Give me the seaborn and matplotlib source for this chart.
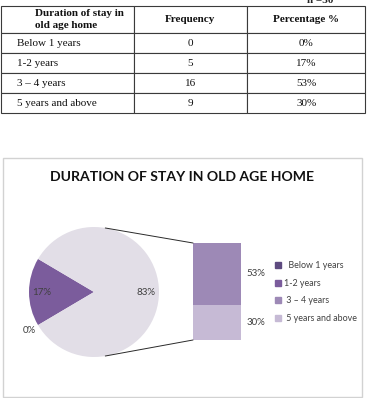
import numpy as np
import pandas as pd
import seaborn as sns
import matplotlib.pyplot as plt
from matplotlib.patches import ConnectionPatch, Rectangle
from matplotlib.lines import Line2D

# data
categories = ["Below 1 years", "1-2 years", "3 – 4 years", "5 years and above"]
legend_labels = ["  Below 1 years", "1-2 years", " 3 – 4 years", " 5 years and above"]
frequency = [0, 5, 16, 9]
percentage = [0, 17, 53, 30]
table_header = ["Duration of stay in\nold age home", "Frequency", "Percentage %"]
sample_note = "n =30"
chart_title = "DURATION OF STAY IN OLD AGE HOME"

colors = ["#5e4b80", "#7b5c9c", "#9d89b6", "#c6bad5"]
other_color = "#e2dee7"
label_color = "#404040"

sns.set_theme(style="white")
plt.rcParams["font.family"] = ["Lato", "DejaVu Sans"]

W, H = 368, 398
fig = plt.figure(figsize=(W / 100, H / 100), dpi=100)


def fig_box(x0, y0, x1, y1):
    # pixel box (top-left origin) -> figure fraction rect
    return [x0 / W, 1 - y1 / H, (x1 - x0) / W, (y1 - y0) / H]


# ---- table ----
fig.text(307 / W, 1 - 3 / H, sample_note, family="Liberation Serif",
         weight="bold", fontsize=8, va="baseline")

tab_ax = fig.add_axes(fig_box(1, 6, 365, 113))
tab_ax.axis("off")
rows = [[c, str(f), f"{p}%"] for c, f, p in zip(categories, frequency, percentage)]
tbl = tab_ax.table(cellText=rows, colLabels=table_header, cellLoc="center",
                   colWidths=[133, 114, 118], bbox=[0, 0, 1, 1])
tbl.auto_set_font_size(False)
for (r, c), cell in tbl.get_celld().items():
    cell.set_edgecolor("#3a3a3a")
    cell.set_linewidth(0.8)
    cell.set_height(27 if r == 0 else 20)
    txt = cell.get_text()
    txt.set_fontfamily("Liberation Serif")
    txt.set_fontsize(8)
    txt.set_color("#111111")
    if r == 0:
        txt.set_fontweight("bold")
        txt.set_linespacing(1.35)
    if c == 0:
        cell._loc = "left"
        cell.PAD = 0.26 if r == 0 else 0.12
        txt.set_horizontalalignment("left")
        txt.set_multialignment("left")

# ---- chart frame + title ----
fig.patches.append(Rectangle((3 / W, 1 - 397 / H), 359 / W, 239 / H, fill=False,
                             edgecolor="#d2d2d2", lw=1, transform=fig.transFigure))
fig.text(182 / W, 1 - 177 / H, chart_title, ha="center", va="center",
         fontsize=10.1, weight="bold", color="#111111")

# ---- pie ----
pie_vals = [percentage[0], percentage[1], sum(percentage[2:])]
pie_ax = fig.add_axes(fig_box(29, 227, 159, 357))
wedges, _ = pie_ax.pie(pie_vals, colors=[colors[0], colors[1], other_color],
                       startangle=180 + percentage[1] * 1.8, counterclock=False,
                       radius=1, wedgeprops=dict(linewidth=0))
pie_ax.set_xlim(-1, 1)
pie_ax.set_ylim(-1, 1)
pie_ax.set_aspect("equal")
for w, v in zip(wedges, pie_vals):
    ang = np.deg2rad((w.theta1 + w.theta2) / 2)
    d = 0.8 if v > 0 else 1.15
    pie_ax.text(d * np.cos(ang), d * np.sin(ang), f"{v}%", ha="center",
                va="center", fontsize=7, color=label_color)

# ---- bar (breakdown of "other") ----
bar_ax = fig.add_axes(fig_box(193, 243, 241, 340))
total = sum(percentage[2:])
sns.barplot(x=[0], y=[total], color=colors[2], width=1, saturation=1,
            ax=bar_ax, linewidth=0)
sns.barplot(x=[0], y=[percentage[3]], color=colors[3], width=1, saturation=1,
            ax=bar_ax, linewidth=0)
bar_ax.set_xlim(-0.5, 0.5)
bar_ax.set_ylim(0, total)
bar_ax.axis("off")
bar_ax.text(0.62, percentage[3] + percentage[2] / 2, f"{percentage[2]}%",
            ha="left", va="center", fontsize=7, color=label_color)
bar_ax.text(0.62, percentage[3] / 2, f"{percentage[3]}%",
            ha="left", va="center", fontsize=7, color=label_color)

# connector lines from the pie to the bar
for sgn, yb in [(1, total), (-1, 0)]:
    ang = np.deg2rad(80 * sgn)
    con = ConnectionPatch(xyA=(np.cos(ang), np.sin(ang)), coordsA=pie_ax.transData,
                          xyB=(-0.5, yb), coordsB=bar_ax.transData,
                          color="#2a2a2a", lw=0.7)
    fig.add_artist(con)

# ---- legend ----
handles = [Line2D([], [], marker="s", ls="", color=c, markersize=4) for c in colors]
fig.legend(handles, legend_labels, loc="center left",
           bbox_to_anchor=(270 / W, 1 - 292 / H), frameon=False, fontsize=6.4,
           handlelength=0.8, handletextpad=0.3, labelspacing=0.95,
           labelcolor=label_color, borderpad=0)

fig.savefig("out.png", dpi=100)
